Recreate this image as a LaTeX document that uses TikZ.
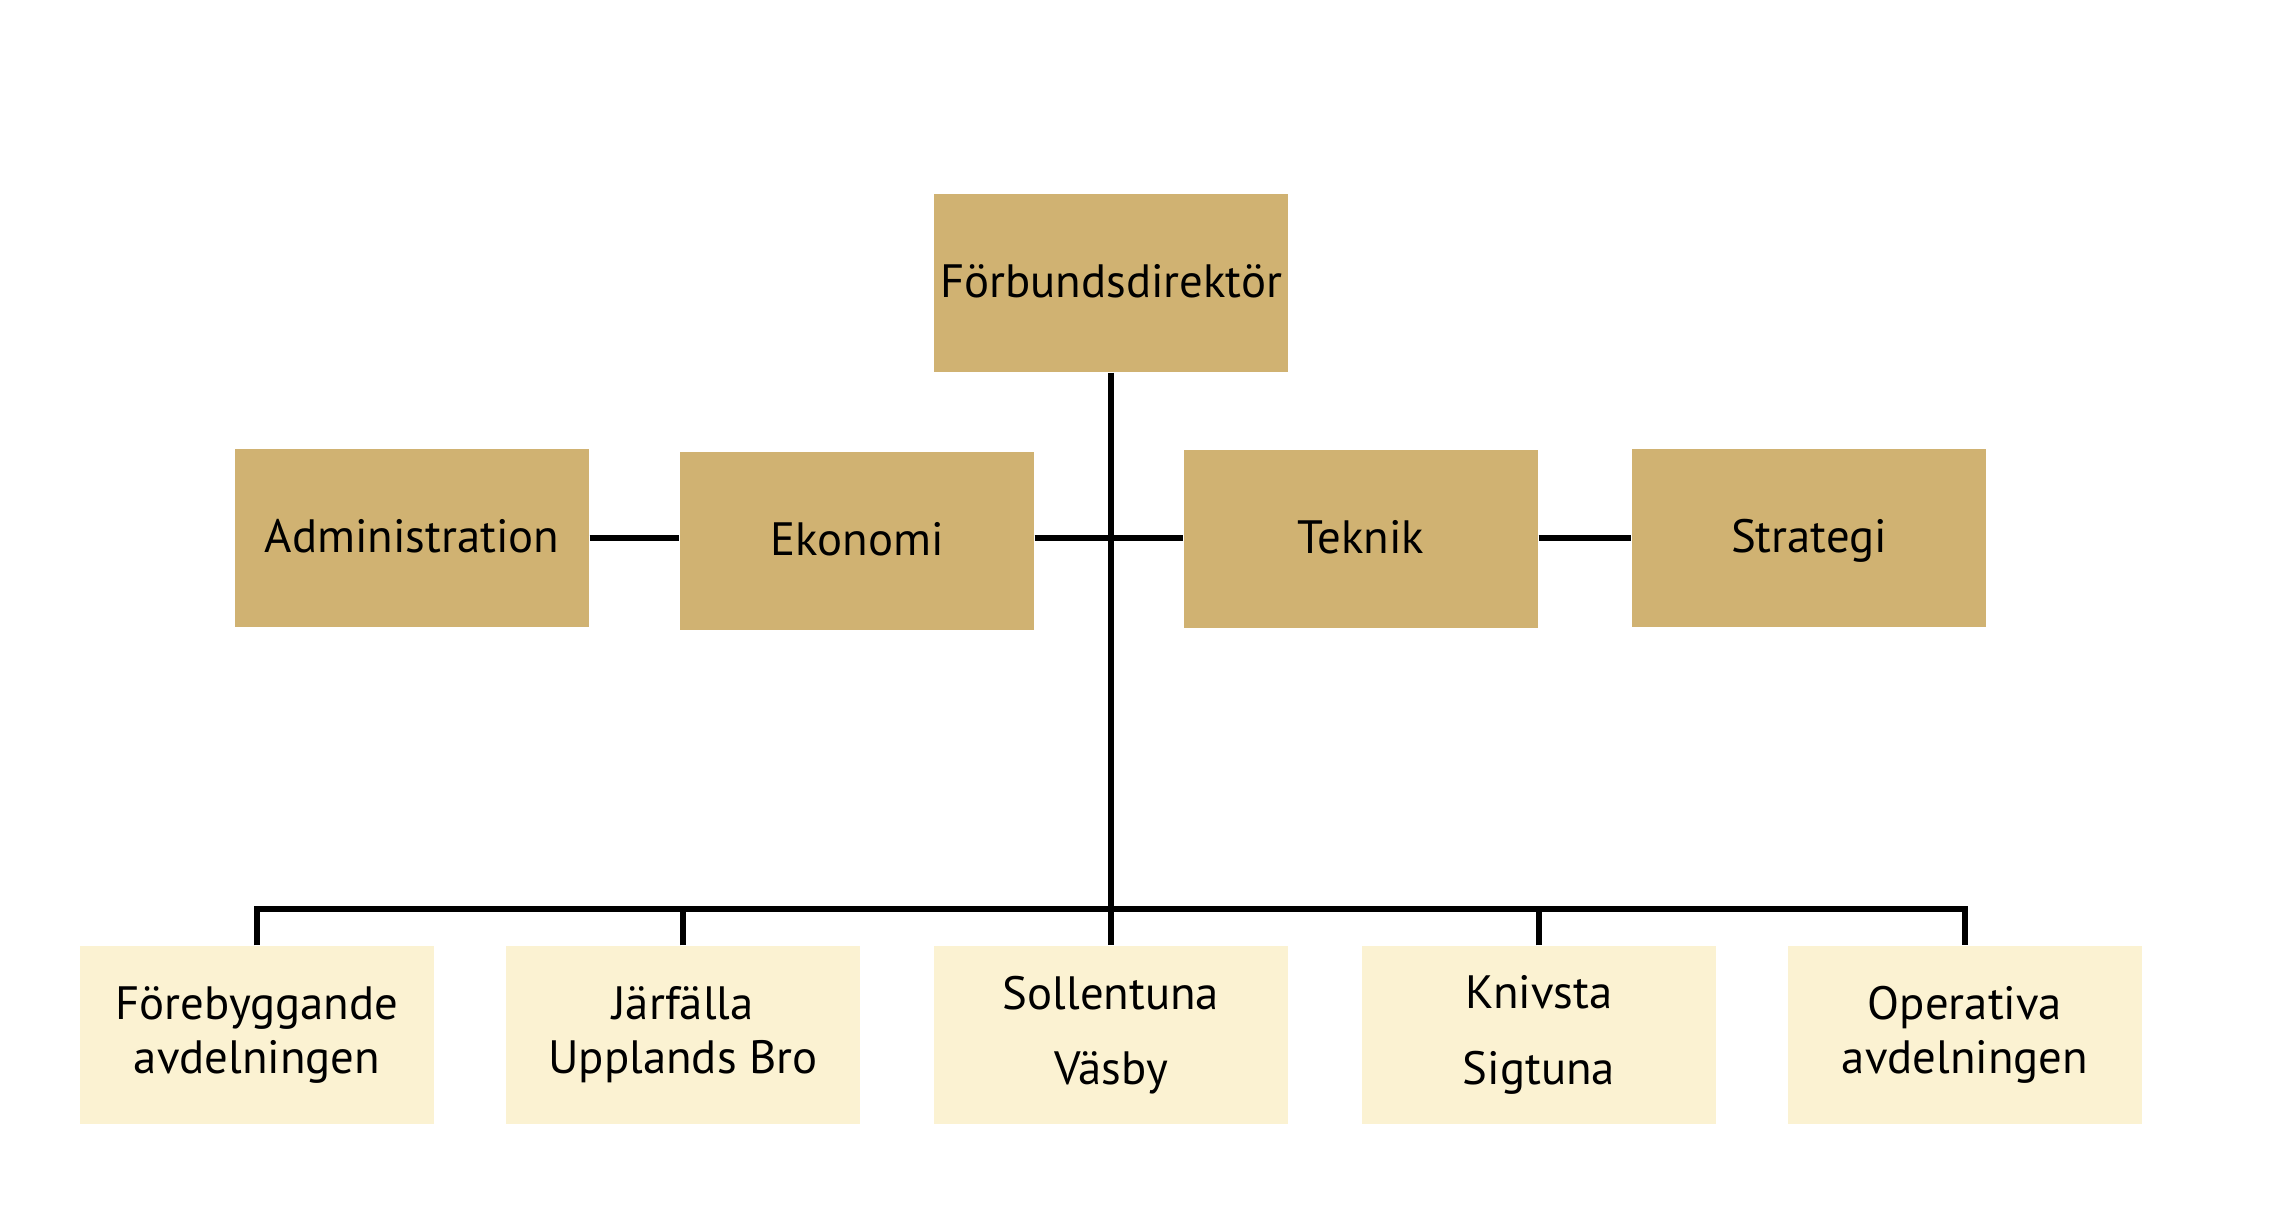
\documentclass[tikz,border=0pt]{standalone}
\usepackage{fontspec}
\setmainfont{PT Sans}
\usetikzlibrary{positioning}
\definecolor{darktan}{RGB}{208,178,114}
\definecolor{lighttan}{RGB}{251,242,210}
\tikzset{
    unit/.style={rectangle, inner sep=0pt, minimum width=3.54cm, minimum height=1.78cm, align=center, font=\fontsize{13.3}{15.4}\selectfont},
    staff/.style={unit, fill=darktan, text height=1.7ex, text depth=0pt},
    branch/.style={unit, fill=lighttan},
    link/.style={line width=1.7pt}
}

\begin{document}
\begin{tikzpicture}
        \useasboundingbox (0,0) rectangle (22.76,12.16);

        \node[staff] (chief) at (11.11,9.33) {Förbundsdirektör};
        \node[staff] (admin) at (4.12,6.78) {Administration};
        \node[staff] (econ) at (8.57,6.75) {Ekonomi};
        \node[staff] (tech) at (13.61,6.77) {Teknik};
        \node[staff] (strat) at (18.09,6.78) {Strategi};

        \foreach \name/\x/\label in {prev/2.57/{Förebyggande\\avdelningen}, jarf/6.83/{Järfälla\\Upplands Bro}, soll/11.11/{Sollentuna\\[6pt]Väsby}, kniv/15.39/{Knivsta\\[6pt]Sigtuna}, oper/19.65/{Operativa\\avdelningen}} {
            \node[branch] (\name) at (\x,1.81) {\label};
        }

        \coordinate (bus) at (11.11,3.07);
        \coordinate (row) at (11.11,6.78);
        \draw[link] (chief.south) -- (soll.north);
        \draw[link] (admin.east |- row) -- (econ.west |- row);
        \draw[link] (econ.east |- row) -- (tech.west |- row);
        \draw[link] (tech.east |- row) -- (strat.west |- row);
        \draw[link] (prev.north) |- (bus) -| (oper.north);
        \foreach \name in {jarf, kniv} {
            \draw[link] (\name.north) -- (\name.north |- bus);
        }
    \end{tikzpicture}
\end{document}
